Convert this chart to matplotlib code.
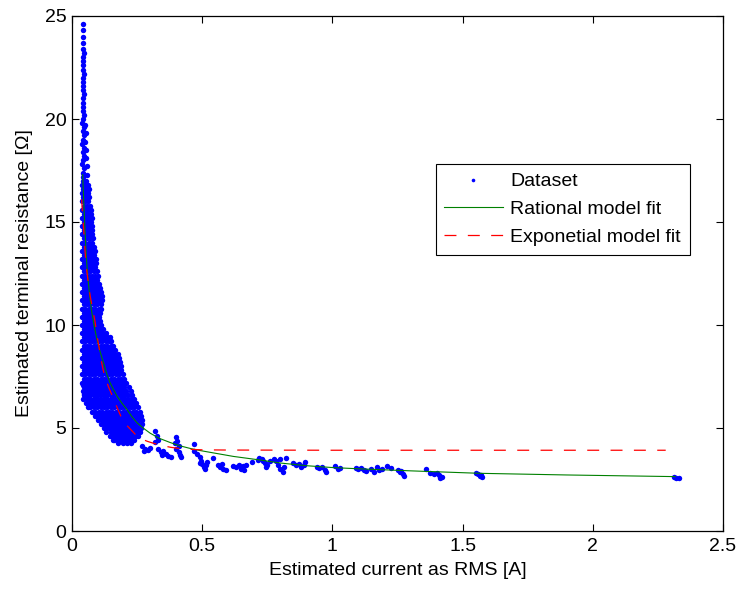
import matplotlib
matplotlib.use('Agg')
import matplotlib.pyplot as plt

plt.rcParams['font.family'] = ['Liberation Sans', 'DejaVu Sans']
plt.rcParams['lines.scale_dashes'] = False

# narrow spike of the dataset at low current (one x per y)
spike_y = [24.6, 24.3, 24.0, 23.7, 23.4, 23.2, 23.0, 22.8, 22.6, 22.4, 22.2, 22.0,
           21.8, 21.6, 21.4, 21.2, 21.0, 20.8, 20.6, 20.4, 20.2]
spike_x = [0.044, 0.044, 0.043, 0.044, 0.042, 0.045, 0.043, 0.041, 0.044, 0.042, 0.045, 0.043,
           0.041, 0.044, 0.042, 0.045, 0.043, 0.041, 0.044, 0.042, 0.046]
spike2_y = [20.0, 19.8, 19.6, 19.4, 19.2, 19.0, 18.8, 18.6, 18.4, 18.2, 18.0, 17.8, 17.6, 17.4, 17.2,
            19.7, 19.3, 18.9, 18.5, 18.1, 17.7, 17.3]
spike2_x = [0.043, 0.040, 0.045, 0.042, 0.047, 0.043, 0.040, 0.046, 0.042, 0.048, 0.043, 0.040, 0.047, 0.042, 0.044,
            0.050, 0.052, 0.051, 0.054, 0.055, 0.057, 0.058]

# dense part of the dataset, read row by row (y level -> x positions)
cloud_y = [17.0, 16.8, 16.6, 16.4, 16.2, 16.0, 15.8, 15.6, 15.4, 15.2, 15.0, 14.8, 14.6, 14.4,
           14.2, 14.0, 13.8, 13.6, 13.4, 13.2, 13.0, 12.8, 12.6, 12.4, 12.2, 12.0, 11.8, 11.6,
           11.4, 11.2, 11.0, 10.8, 10.6, 10.4, 10.2, 10.0, 9.8, 9.6, 9.4, 9.2, 9.0, 8.8, 8.6,
           8.4, 8.2, 8.0, 7.8, 7.6, 7.4, 7.2, 7.0, 6.8, 6.6, 6.4, 6.2, 6.0, 5.8, 5.6, 5.4, 5.2,
           5.0, 4.8, 4.6, 4.4, 4.25]
cloud_x = [
    [0.041, 0.052],
    [0.039, 0.050, 0.061],
    [0.043, 0.055, 0.065],
    [0.039, 0.051, 0.063],
    [0.044, 0.056, 0.067],
    [0.039, 0.051, 0.063],
    [0.045, 0.057, 0.069],
    [0.039, 0.051, 0.063, 0.072],
    [0.045, 0.058, 0.074],
    [0.039, 0.051, 0.064, 0.075],
    [0.045, 0.058, 0.072],
    [0.039, 0.051, 0.064, 0.076],
    [0.045, 0.058, 0.070, 0.078],
    [0.039, 0.051, 0.064, 0.076],
    [0.045, 0.058, 0.070, 0.080],
    [0.039, 0.051, 0.064, 0.076],
    [0.045, 0.058, 0.070, 0.084],
    [0.039, 0.051, 0.064, 0.077, 0.088],
    [0.045, 0.058, 0.071, 0.084],
    [0.039, 0.051, 0.064, 0.077, 0.091],
    [0.045, 0.058, 0.071, 0.084, 0.094],
    [0.039, 0.051, 0.064, 0.077, 0.090],
    [0.045, 0.058, 0.071, 0.084, 0.097],
    [0.039, 0.051, 0.064, 0.077, 0.090, 0.100],
    [0.045, 0.058, 0.071, 0.084, 0.097],
    [0.039, 0.051, 0.064, 0.077, 0.090, 0.104],
    [0.045, 0.058, 0.071, 0.084, 0.097, 0.108],
    [0.039, 0.051, 0.064, 0.077, 0.090, 0.103, 0.112],
    [0.045, 0.058, 0.071, 0.084, 0.097, 0.110, 0.116],
    [0.039, 0.051, 0.064, 0.077, 0.090, 0.103, 0.117],
    [0.045, 0.058, 0.071, 0.084, 0.097, 0.110],
    [0.039, 0.051, 0.064, 0.077, 0.090, 0.103, 0.112],
    [0.045, 0.058, 0.071, 0.084, 0.097, 0.109],
    [0.039, 0.051, 0.064, 0.077, 0.090, 0.103],
    [0.045, 0.058, 0.071, 0.084, 0.097, 0.108],
    [0.039, 0.051, 0.064, 0.077, 0.090, 0.103, 0.110],
    [0.045, 0.058, 0.071, 0.084, 0.097, 0.110, 0.118],
    [0.039, 0.051, 0.064, 0.077, 0.090, 0.103, 0.116, 0.129],
    [0.045, 0.058, 0.071, 0.084, 0.097, 0.110, 0.123, 0.136, 0.145],
    [0.039, 0.051, 0.064, 0.077, 0.090, 0.103, 0.116, 0.129, 0.142, 0.150],
    [0.045, 0.058, 0.071, 0.084, 0.097, 0.110, 0.123, 0.136, 0.149, 0.158],
    [0.039, 0.051, 0.064, 0.077, 0.090, 0.103, 0.116, 0.129, 0.142, 0.155, 0.167],
    [0.045, 0.058, 0.071, 0.084, 0.097, 0.110, 0.123, 0.136, 0.149, 0.162, 0.175],
    [0.039, 0.051, 0.064, 0.077, 0.090, 0.103, 0.116, 0.129, 0.142, 0.155, 0.168, 0.181],
    [0.045, 0.058, 0.071, 0.084, 0.097, 0.110, 0.123, 0.136, 0.149, 0.162, 0.175, 0.186],
    [0.039, 0.051, 0.064, 0.077, 0.090, 0.103, 0.116, 0.129, 0.142, 0.155, 0.168, 0.181, 0.190],
    [0.045, 0.058, 0.071, 0.084, 0.097, 0.110, 0.123, 0.136, 0.149, 0.162, 0.175, 0.188],
    [0.039, 0.051, 0.064, 0.077, 0.090, 0.103, 0.116, 0.129, 0.142, 0.155, 0.168, 0.181, 0.195],
    [0.045, 0.058, 0.071, 0.084, 0.097, 0.110, 0.123, 0.136, 0.149, 0.162, 0.175, 0.188, 0.200],
    [0.039, 0.051, 0.064, 0.077, 0.090, 0.103, 0.116, 0.129, 0.142, 0.155, 0.168, 0.181, 0.194, 0.208],
    [0.045, 0.058, 0.071, 0.084, 0.097, 0.110, 0.123, 0.136, 0.149, 0.162, 0.175, 0.188, 0.201, 0.218],
    [0.041, 0.051, 0.064, 0.077, 0.090, 0.103, 0.116, 0.129, 0.142, 0.155, 0.168, 0.181, 0.194, 0.207, 0.226],
    [0.045, 0.058, 0.071, 0.084, 0.097, 0.110, 0.123, 0.136, 0.149, 0.162, 0.175, 0.188, 0.201, 0.214, 0.231],
    [0.044, 0.058, 0.070, 0.083, 0.096, 0.109, 0.122, 0.135, 0.148, 0.161, 0.174, 0.187, 0.200, 0.213, 0.226, 0.239],
    [0.052, 0.064, 0.077, 0.090, 0.103, 0.116, 0.129, 0.142, 0.155, 0.168, 0.181, 0.194, 0.207, 0.220, 0.233, 0.246],
    [0.062, 0.071, 0.084, 0.097, 0.110, 0.123, 0.136, 0.149, 0.162, 0.175, 0.188, 0.201, 0.214, 0.227, 0.240, 0.254],
    [0.077, 0.090, 0.103, 0.116, 0.129, 0.142, 0.155, 0.168, 0.181, 0.194, 0.207, 0.220, 0.233, 0.246, 0.260],
    [0.089, 0.097, 0.110, 0.123, 0.136, 0.149, 0.162, 0.175, 0.188, 0.201, 0.214, 0.227, 0.240, 0.253, 0.265],
    [0.100, 0.116, 0.129, 0.142, 0.155, 0.168, 0.181, 0.194, 0.207, 0.220, 0.233, 0.246, 0.259, 0.270],
    [0.112, 0.123, 0.136, 0.149, 0.162, 0.175, 0.188, 0.201, 0.214, 0.227, 0.240, 0.253, 0.267],
    [0.121, 0.129, 0.142, 0.155, 0.168, 0.181, 0.194, 0.207, 0.220, 0.233, 0.246, 0.259, 0.265],
    [0.132, 0.149, 0.162, 0.175, 0.188, 0.201, 0.214, 0.227, 0.240, 0.253, 0.262],
    [0.146, 0.155, 0.168, 0.181, 0.194, 0.207, 0.220, 0.233, 0.246, 0.255],
    [0.160, 0.175, 0.188, 0.201, 0.214, 0.227, 0.240],
    [0.178, 0.196, 0.212, 0.228],
]

# sparse points at higher current
sparse_x = [0.042, 0.046, 0.107, 0.157,
            0.27, 0.28, 0.29, 0.30, 0.275,
            0.32, 0.325, 0.33, 0.318,
            0.33, 0.34, 0.35, 0.36, 0.37, 0.38, 0.345,
            0.40, 0.405, 0.41, 0.40, 0.41, 0.415, 0.42, 0.395,
            0.47,
            0.47, 0.48, 0.49, 0.495, 0.50, 0.505, 0.51, 0.49, 0.515, 0.52,
            0.54,
            0.56, 0.57, 0.58, 0.59, 0.575,
            0.62, 0.63, 0.64, 0.65, 0.66, 0.655, 0.67,
            0.69,
            0.715, 0.72, 0.73, 0.74, 0.745, 0.75, 0.76, 0.735,
            0.775, 0.785, 0.79, 0.80, 0.81, 0.815, 0.82, 0.80,
            0.85, 0.86, 0.87, 0.88, 0.89, 0.895,
            0.94, 0.95, 0.96, 0.97, 0.975,
            1.01, 1.02, 1.03,
            1.09, 1.10, 1.11, 1.12, 1.13,
            1.15, 1.16, 1.17, 1.18, 1.19,
            1.21, 1.225,
            1.25, 1.26, 1.27, 1.275, 1.265,
            1.36,
            1.375, 1.39, 1.40, 1.41, 1.42, 1.415,
            1.55, 1.56, 1.565, 1.57, 1.575,
            2.31, 2.32, 2.33]
sparse_y = [7.1, 6.65, 5.5, 4.4,
            4.15, 4.0, 3.95, 4.05, 3.9,
            4.85, 4.6, 4.4, 4.3,
            4.0, 3.85, 3.9, 3.75, 3.65, 3.6, 3.7,
            4.55, 4.35, 4.15, 4.0, 3.85, 3.7, 3.6, 4.25,
            4.2,
            3.9, 3.75, 3.6, 3.4, 3.25, 3.1, 3.0, 3.3, 3.2, 3.35,
            3.55,
            3.2, 3.1, 3.0, 2.95, 3.25,
            3.15, 3.1, 3.2, 3.0, 2.95, 3.15, 3.2,
            3.35,
            3.45, 3.55, 3.5, 3.3, 3.1, 3.2, 3.4, 3.4,
            3.5, 3.4, 3.2, 3.0, 2.85, 3.1, 3.55, 3.5,
            3.3, 3.2, 3.25, 3.1, 3.2, 3.35,
            3.1, 3.05, 3.1, 2.95, 2.85,
            3.15, 3.0, 3.05,
            3.05, 3.0, 3.05, 2.95, 2.9,
            3.0, 2.85, 3.1, 2.95, 3.0,
            3.15, 3.05,
            2.95, 2.85, 2.75, 2.65, 2.9,
            3.0,
            2.8, 2.75, 2.8, 2.7, 2.6, 2.55,
            2.8, 2.75, 2.65, 2.7, 2.6,
            2.6, 2.55, 2.55]

# fitted curves
rational_x = [0.041, 0.045, 0.05, 0.055, 0.061, 0.068, 0.075, 0.085, 0.096, 0.108, 0.12, 0.133,
              0.146, 0.16, 0.175, 0.192, 0.211, 0.23, 0.25, 0.273, 0.30, 0.335, 0.376, 0.41,
              0.45, 0.49, 0.53, 0.62, 0.72, 0.80, 0.90, 1.0, 1.1, 1.3, 1.567, 1.9, 2.316]
rational_y = [17.3, 16.0, 14.6, 13.3, 12.3, 11.4, 10.7, 9.95, 9.3, 8.7, 8.2, 7.65,
              7.2, 6.85, 6.5, 6.2, 5.9, 5.55, 5.25, 5.0, 4.75, 4.5, 4.3, 4.15,
              4.02, 3.91, 3.82, 3.62, 3.45, 3.3, 3.17, 3.08, 3.02, 2.92, 2.8, 2.72, 2.64]
expo_x = [0.037, 0.041, 0.045, 0.05, 0.056, 0.063, 0.07, 0.079, 0.088, 0.096, 0.104, 0.112,
          0.12, 0.13, 0.14, 0.157, 0.173, 0.19, 0.205, 0.22, 0.235, 0.25, 0.27, 0.29, 0.31,
          0.338, 0.38, 0.426, 0.5, 0.6, 1.0, 1.5, 2.0, 2.28]
expo_y = [16.1, 15.3, 14.6, 13.6, 12.7, 12.0, 11.4, 10.8, 10.2, 9.5, 8.9, 8.3,
          7.8, 7.35, 7.0, 6.5, 6.0, 5.5, 5.2, 5.0, 4.8, 4.6, 4.45, 4.35, 4.27,
          4.17, 4.06, 3.98, 3.94, 3.93, 3.92, 3.92, 3.92, 3.92]

x_ticks = [0, 0.5, 1, 1.5, 2, 2.5]
x_labels = ['0', '0.5', '1', '1.5', '2', '2.5']
y_ticks = [0, 5, 10, 15, 20, 25]
y_labels = ['0', '5', '10', '15', '20', '25']

data_x = list(spike_x) + list(spike2_x)
data_y = list(spike_y) + list(spike2_y)
for yy, row in zip(cloud_y, cloud_x):
    for xx in row:
        data_x.append(xx)
        data_y.append(yy)
data_x += sparse_x
data_y += sparse_y

fig = plt.figure(figsize=(7.42, 5.89), dpi=100)
ax = fig.add_axes([72 / 742, 58 / 589, 651 / 742, 515 / 589])

ax.plot(data_x, data_y, 'o', color=(0, 0, 1), ms=3.9, mew=0, label='Dataset')
ax.plot(rational_x, rational_y, '-', color=(0, 0.5, 0), lw=0.8, label='Rational model fit')
ax.plot(expo_x, expo_y, '--', color=(1, 0, 0), lw=0.9, dashes=(8.6, 8.2),
        label='Exponetial model fit')

ax.set_xlim(0, 2.5)
ax.set_ylim(0, 25)
ax.set_xticks(x_ticks)
ax.set_xticklabels(x_labels)
ax.set_yticks(y_ticks)
ax.set_yticklabels(y_labels)
ax.tick_params(direction='in', top=True, right=True, length=5, width=0.8, labelsize=14)
ax.tick_params(axis='x', pad=5)
ax.tick_params(axis='y', pad=4)
for s in ax.spines.values():
    s.set_linewidth(0.9)

ax.set_xlabel('Estimated current as RMS [A]', fontsize=14)
ax.set_ylabel('Estimated terminal resistance [Ω]', fontsize=14)
ax.xaxis.set_label_coords(0.5, -0.06)
ax.yaxis.set_label_coords(-0.06, 0.5)

leg = ax.legend(loc='upper right', bbox_to_anchor=(0.949, 0.7126), borderaxespad=0,
                fontsize=14, numpoints=1, handlelength=3.0, handletextpad=0.4,
                borderpad=0.45, labelspacing=0.53, fancybox=False, framealpha=1)
leg.get_frame().set_edgecolor('black')
leg.get_frame().set_linewidth(0.8)
leg.legend_handles[0].set_markersize(2.6)

fig.savefig('out.png', dpi=100)
